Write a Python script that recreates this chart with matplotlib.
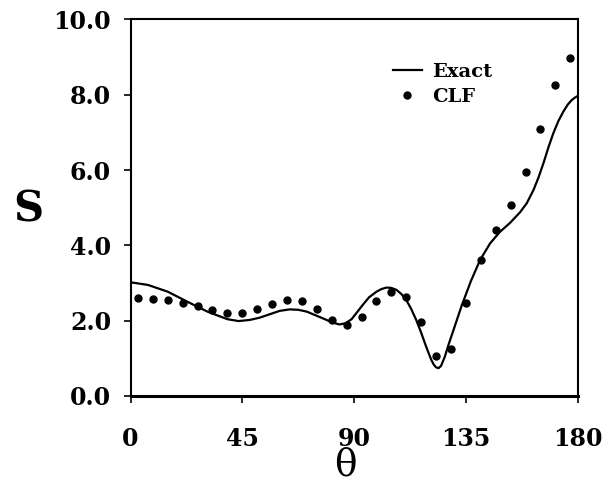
import matplotlib
matplotlib.use("Agg")
import matplotlib.pyplot as plt

# Exact solution
theta_exact = [0, 7, 15, 23, 31, 39, 43.5, 48, 52, 56, 60, 64, 67.5, 71, 77.5, 81, 84, 86.5, 89,
               93.5, 96, 99, 101, 103, 105, 107, 109, 111, 113, 115, 117, 119, 121, 122, 123, 124,
               125, 126.5, 128, 130, 133.3, 137, 140.7, 144.7, 148.7, 152.8, 156.8, 159.5, 162.2,
               164.2, 166.2, 168.2, 170.2, 172.2, 174.2, 176, 177.6, 179, 180]
s_exact = [3.02, 2.95, 2.77, 2.50, 2.24, 2.04, 1.99, 2.02, 2.08, 2.17, 2.26, 2.30, 2.29, 2.24, 2.06,
           1.96, 1.90, 1.93, 2.04, 2.42, 2.62, 2.77, 2.84, 2.88, 2.87, 2.82, 2.71, 2.55, 2.31, 2.02,
           1.68, 1.31, 0.97, 0.84, 0.76, 0.74, 0.80, 1.04, 1.36, 1.75, 2.40, 3.05, 3.61, 4.05, 4.36,
           4.60, 4.88, 5.12, 5.47, 5.80, 6.18, 6.60, 6.98, 7.30, 7.55, 7.74, 7.86, 7.93, 7.97]

# CLF results, every 6 degrees
theta_clf = [3, 9, 15, 21, 27, 33, 39, 45, 51, 57, 63, 69, 75, 81, 87,
             93, 99, 105, 111, 117, 123, 129, 135, 141, 147, 153, 159, 165, 171, 177]
s_clf = [2.59, 2.58, 2.55, 2.48, 2.39, 2.28, 2.20, 2.20, 2.30, 2.45, 2.55, 2.52, 2.31, 2.02, 1.88,
         2.10, 2.52, 2.77, 2.63, 1.97, 1.06, 1.24, 2.48, 3.61, 4.42, 5.07, 5.94, 7.09, 8.25, 8.99]

xticks = [0, 45, 90, 135, 180]
yticks = [0, 2, 4, 6, 8, 10]

plt.rcParams["font.family"] = ["DejaVu Serif"]
plt.rcParams["font.weight"] = "bold"

fig = plt.figure(figsize=(6.13, 4.91), dpi=100)
ax = fig.add_axes([0.2129, 0.1935, 0.7295, 0.7668])

ax.plot(theta_exact, s_exact, color="black", lw=1.6, label="Exact")
ax.plot(theta_clf, s_clf, "o", color="black", ms=5, label="CLF")

ax.set_xlim(0, 180)
ax.set_ylim(0, 10)
ax.set_xticks(xticks)
ax.set_yticks(yticks)
ax.set_yticklabels([f"{v:.1f}" for v in yticks])
ax.tick_params(axis="both", direction="out", length=5, width=1.2, labelsize=17)
ax.tick_params(axis="x", pad=17)
ax.tick_params(axis="y", pad=9)
for side in ["left", "right", "top"]:
    ax.spines[side].set_linewidth(1.5)
ax.spines["bottom"].set_linewidth(2.2)

fig.text(0.563, 1 - 466 / 491, "θ", fontsize=27, fontweight="normal", ha="center", va="center")
fig.text(0.047, 1 - 209 / 491, "S", fontsize=30, fontweight="bold", ha="center", va="center")

ax.legend(loc="upper left", bbox_to_anchor=(0.565, 0.91), frameon=False, fontsize=14,
          borderpad=0, handlelength=1.5, handletextpad=0.5, labelspacing=0.35, numpoints=1)

fig.savefig("out.png", dpi=100)
